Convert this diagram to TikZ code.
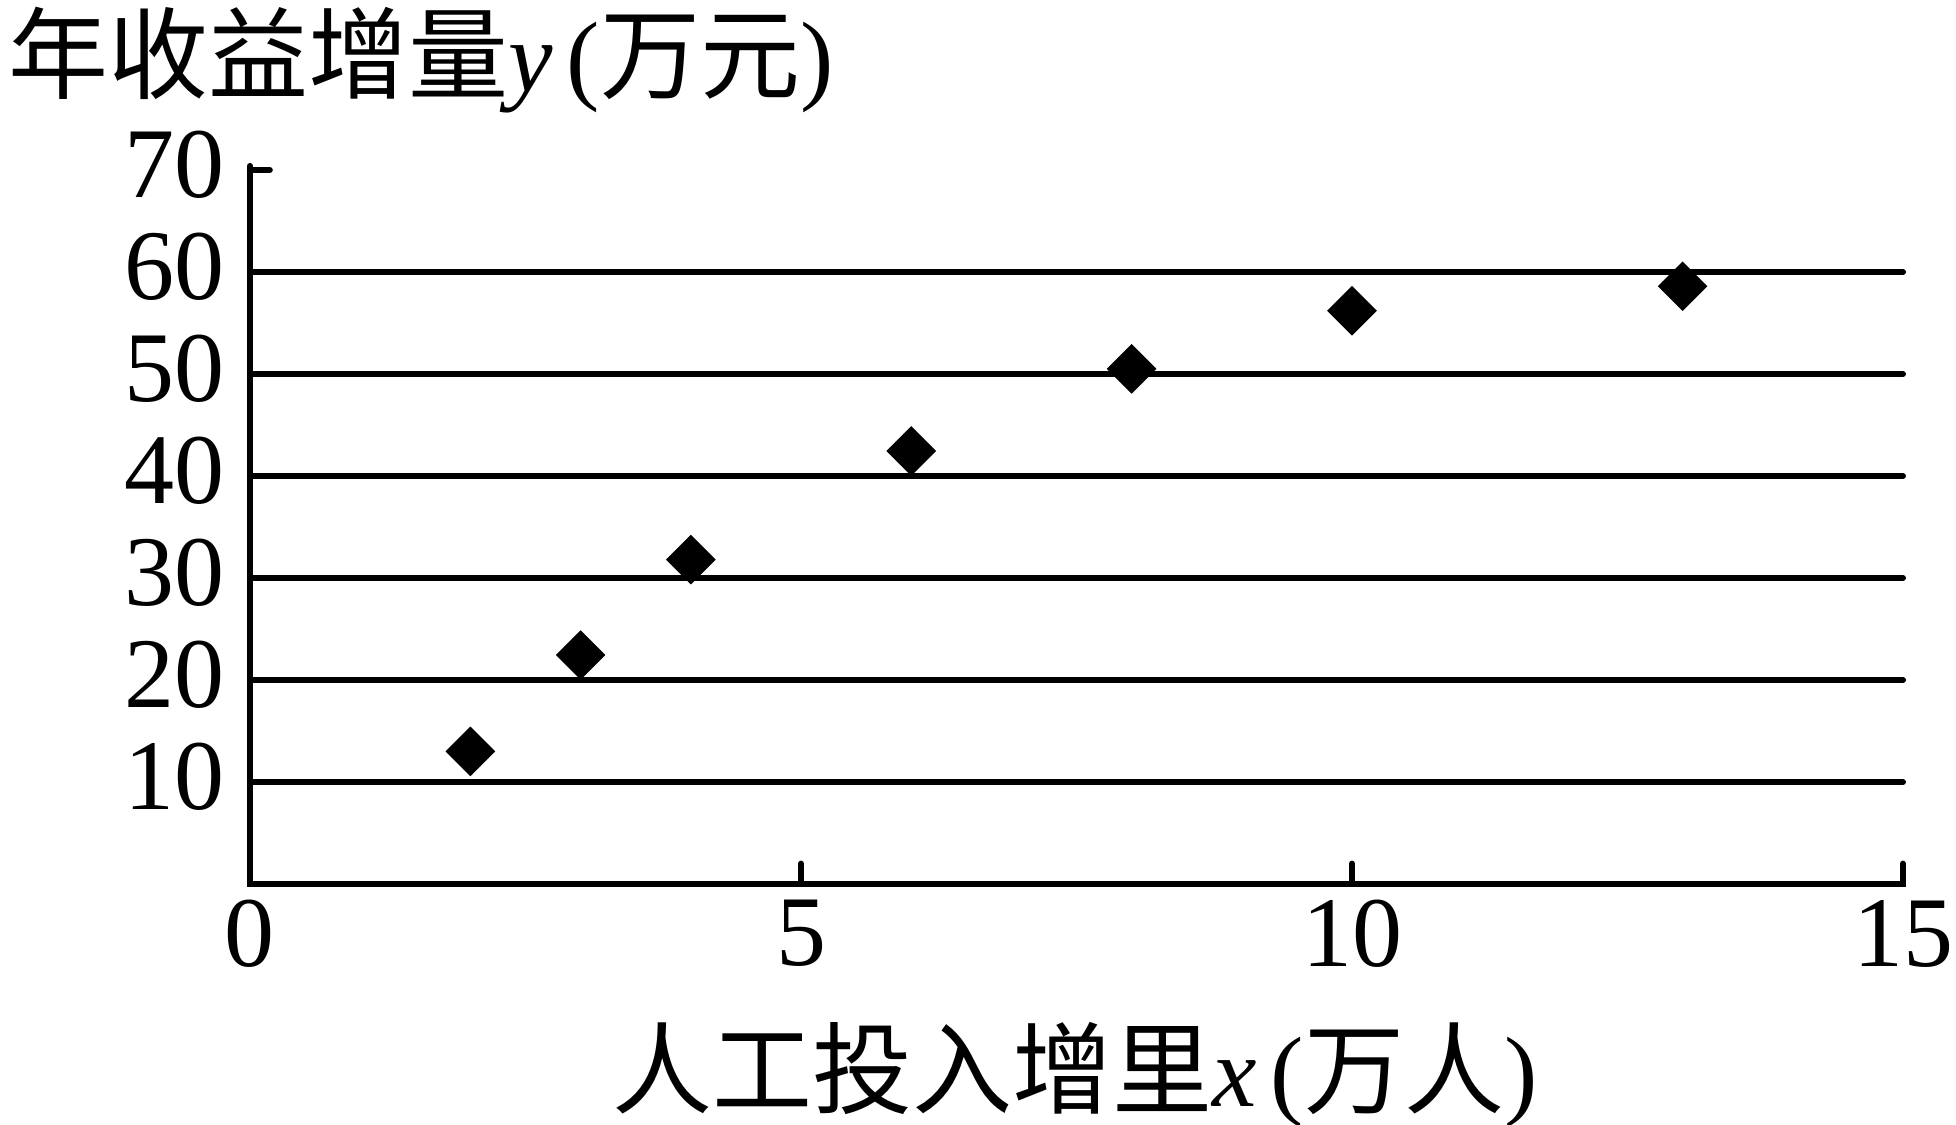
\documentclass[tikz,border=0pt]{standalone}
\usepackage{fontspec}
\setmainfont{Liberation Serif}
\newfontfamily\cjk{Noto Sans CJK SC}
\usepackage{tikz}
\usetikzlibrary{shapes.geometric}
\tikzstyle{point} = [diamond, fill=black, inner sep=0pt, minimum size=25pt]
\tikzstyle{ylabel} = [anchor=east, inner sep=0pt, xshift=-12.5pt, yshift=2.5pt]
\tikzstyle{xlabel} = [anchor=north, inner sep=0pt, yshift=-8pt]
\tikzstyle{rule} = [line width=3pt, line cap=round]

\begin{document}
\begin{tikzpicture}[x=55.1pt, y=5.1pt, font=\fontsize{50pt}{60pt}\selectfont]
\useasboundingbox (-125pt,-120.5pt) rectangle (853pt,442pt);

\draw [rule] (0,10) to (15,10);
\draw [rule] (0,20) to (15,20);
\draw [rule] (0,30) to (15,30);
\draw [rule] (0,40) to (15,40);
\draw [rule] (0,50) to (15,50);
\draw [rule] (0,60) to (15,60);

\draw [rule, line join=miter] (0,70.4) -- (0,0) -- (15,0) -- (15,2);
\draw [rule] (0,70) -- (0.18,70);
\draw [rule] (5,0) -- (5,2);
\draw [rule] (10,0) -- (10,2);

\node [ylabel] (y10) at (0,10) {10};
\node [ylabel] (y20) at (0,20) {20};
\node [ylabel] (y30) at (0,30) {30};
\node [ylabel] (y40) at (0,40) {40};
\node [ylabel] (y50) at (0,50) {50};
\node [ylabel] (y60) at (0,60) {60};
\node [ylabel] (y70) at (0,70) {70};

\node [xlabel] (x0) at (0,0) {0};
\node [xlabel] (x5) at (5,0) {5};
\node [xlabel] (x10) at (10,0) {10};
\node [xlabel] (x15) at (15,0) {15};

\node [point] (p1) at (2,13) {};
\node [point] (p2) at (3,22.45) {};
\node [point] (p3) at (4,31.8) {};
\node [point] (p4) at (6,42.45) {};
\node [point] (p5) at (8,50.5) {};
\node [point] (p6) at (10,56.2) {};
\node [point] (p7) at (13,58.6) {};

\node [anchor=base west, inner sep=0pt] (ytitle) at (-121pt,396pt) {{\cjk 年收益增量}\textit{y}\kern7pt({\cjk 万元})};
\node [anchor=base west, inner sep=0pt] (xtitle) at (181pt,-111pt) {{\cjk 人工投入增里}\textit{x}\kern7pt({\cjk 万人})};
\end{tikzpicture}
\end{document}
